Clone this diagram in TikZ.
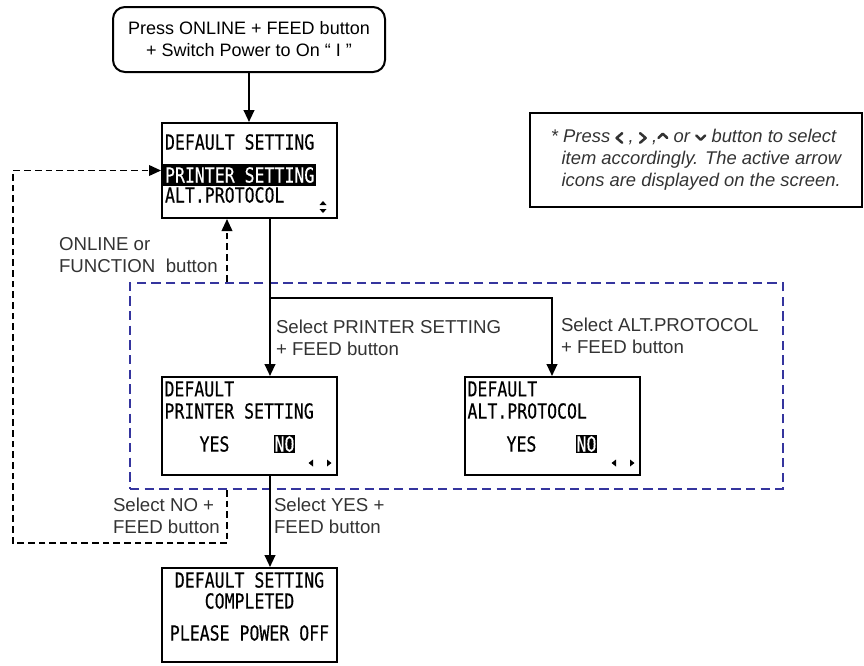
\documentclass[tikz,border=0pt]{standalone}
\usepackage{fontspec}
\setmainfont{Liberation Sans}
\newfontfamily\lcdfont[FakeStretch=0.8,FakeBold=0.3]{DejaVu Sans Mono}
\usetikzlibrary{arrows.meta,positioning,calc}

\definecolor{grpblue}{HTML}{35359E}
\definecolor{labelgray}{HTML}{333333}

% bold key chevrons used in the note
\newcommand{\chevleft}{\tikz[baseline=0pt,x=1pt,y=1pt]\draw[line width=1.9pt,line cap=round,line join=round] (5,0)--(0.8,3.6)--(5,7.2);}
\newcommand{\chevright}{\tikz[baseline=0pt,x=1pt,y=1pt]\draw[line width=1.9pt,line cap=round,line join=round] (0.8,0)--(5,3.6)--(0.8,7.2);}
\newcommand{\chevup}{\tikz[baseline=0pt,x=1pt,y=1pt]\draw[line width=1.9pt,line cap=round,line join=round] (0,3.6)--(3.3,6.8)--(6.6,3.6);}
\newcommand{\chevdown}{\tikz[baseline=0pt,x=1pt,y=1pt]\draw[line width=1.9pt,line cap=round,line join=round] (0,5.4)--(3.3,2.2)--(6.6,5.4);}

\begin{document}
\begin{tikzpicture}[x=0.75pt, y=-0.75pt, line width=1.5pt,
  font=\fontsize{13.5}{16.5}\selectfont,
  start/.style={draw, rounded corners=9pt, align=center, minimum width=204pt,
                minimum height=48.75pt, inner sep=2pt},
  lcd/.style={draw, minimum width=131.25pt, inner sep=0pt},
  lcdtext/.style={font=\lcdfont\fontsize{15.5}{18}\selectfont, inner sep=0pt},
  lcdsel/.style={lcdtext, fill=black, text=white, inner xsep=1.5pt, inner ysep=2.25pt},
  note/.style={draw, align=left, font=\itshape\fontsize{13.8}{16.5}\selectfont, text=labelgray,
               minimum width=249pt, minimum height=70.5pt, inner sep=0pt},
  label/.style={text=labelgray, align=left, inner sep=0pt, font=\fontsize{14}{16.5}\selectfont},
  group/.style={draw=grpblue, dash pattern=on 7pt off 4pt, minimum width=489.75pt,
                minimum height=154.5pt},
  arrow/.style={-{Triangle[length=9pt,width=8pt]}},
  back/.style={arrow, dash pattern=on 5pt off 3pt, line width=1.2pt}]
  \useasboundingbox (0,0) rectangle (864,665);
  \node[group] (grp) at (456.5,386) {};
  \node[start] (start) at (249,39.5) {Press ONLINE + FEED button\\+ Switch Power to On “ I ”};
  \node[lcd, minimum height=71.25pt] (lcdmain) at (249.5,170.5) {};
  \node[lcd, minimum height=73.5pt] (lcdprn) at (249,426) {};
  \node[lcd, minimum height=73.5pt] (lcdalt) at (552,426) {};
  \node[lcd, minimum height=70.5pt] (lcddone) at (249.5,615) {};
  \node[note] (note) at (696,160) {* Press \chevleft{} , \chevright{} ,\chevup{} or \chevdown{} button to select\\
    \hspace*{8pt}item accordingly. The active arrow\\
    \hspace*{8pt}icons are displayed on the screen.};
  % screen contents
  \node[lcdtext, anchor=west] (mainhead) at ($(lcdmain.north west)+(3,20)$) {DEFAULT SETTING};
  \node[lcdsel, anchor=west] (mainsel) at ($(lcdmain.north west)+(1,53)$) {PRINTER SETTING};
  \node[lcdtext, anchor=west] (mainalt) at ($(lcdmain.north west)+(3,73)$) {ALT.PROTOCOL};
  \fill ($(lcdmain.south east)+(-15,-18)$) -- ++(3.5,4) -- ++(-7,0) -- cycle;
  \fill ($(lcdmain.south east)+(-15,-6)$) -- ++(3.5,-4) -- ++(-7,0) -- cycle;
  \node[lcdtext, anchor=west] (prnhead) at ($(lcdprn.north west)+(3,13)$) {DEFAULT};
  \node[lcdtext, anchor=west] (prnitem) at ($(lcdprn.north west)+(3,35)$) {PRINTER SETTING};
  \node[lcdtext] (prnyes) at ($(lcdprn.north west)+(54,68)$) {YES};
  \node[lcdsel, inner xsep=0.5pt, inner ysep=1pt] (prnno) at ($(lcdprn.north west)+(124,68)$) {NO};
  \fill ($(lcdprn.south west)+(148,-13)$) -- ++(4.5,-3.5) -- ++(0,7) -- cycle;
  \fill ($(lcdprn.south west)+(171,-13)$) -- ++(-4.5,-3.5) -- ++(0,7) -- cycle;
  \node[lcdtext, anchor=west] (althead) at ($(lcdalt.north west)+(3,13)$) {DEFAULT};
  \node[lcdtext, anchor=west] (altitem) at ($(lcdalt.north west)+(3,35)$) {ALT.PROTOCOL};
  \node[lcdtext] (altyes) at ($(lcdalt.north west)+(58,68)$) {YES};
  \node[lcdsel, inner xsep=0.5pt, inner ysep=1pt] (altno) at ($(lcdalt.north west)+(123,68)$) {NO};
  \fill ($(lcdalt.south west)+(148,-13)$) -- ++(4.5,-3.5) -- ++(0,7) -- cycle;
  \fill ($(lcdalt.south west)+(171,-13)$) -- ++(-4.5,-3.5) -- ++(0,7) -- cycle;
  \node[lcdtext] (donehead) at ($(lcddone.north)+(0,13)$) {DEFAULT SETTING};
  \node[lcdtext] (donestate) at ($(lcddone.north)+(0,34)$) {COMPLETED};
  \node[lcdtext] (doneoff) at ($(lcddone.north)+(0,66)$) {PLEASE POWER OFF};
  % labels
  \node[label, anchor=west] (lblonline) at (58,255) {ONLINE or\\FUNCTION~~button};
  \node[label, anchor=west] (lblprn) at (275,338) {Select PRINTER SETTING\\+ FEED button};
  \node[label, anchor=west] (lblalt) at (560,336) {Select ALT.PROTOCOL\\+ FEED button};
  \node[label, anchor=west] (lblno) at (112,516) {Select NO +\\FEED button};
  \node[label, anchor=west] (lblyes) at (273,516) {Select YES +\\FEED button};
  % connectors
  \coordinate (sel) at (270,298);
  \coordinate (back) at (227,543);
  \coordinate (backleft) at (13,543);
  \draw[arrow] (start.south) -- (start.south |- lcdmain.north);
  \draw[arrow] (sel |- lcdmain.south) -- (sel |- lcdprn.north);
  \draw[arrow] (sel) -| (lcdalt.north);
  \draw[arrow] (sel |- lcdprn.south) -- (sel |- lcddone.north);
  \draw[back] (back |- grp.north) -- (back |- lcdmain.south);
  \draw[back] (back |- grp.south) -- (back) -- (backleft) |- (lcdmain.west);
\end{tikzpicture}
\end{document}
